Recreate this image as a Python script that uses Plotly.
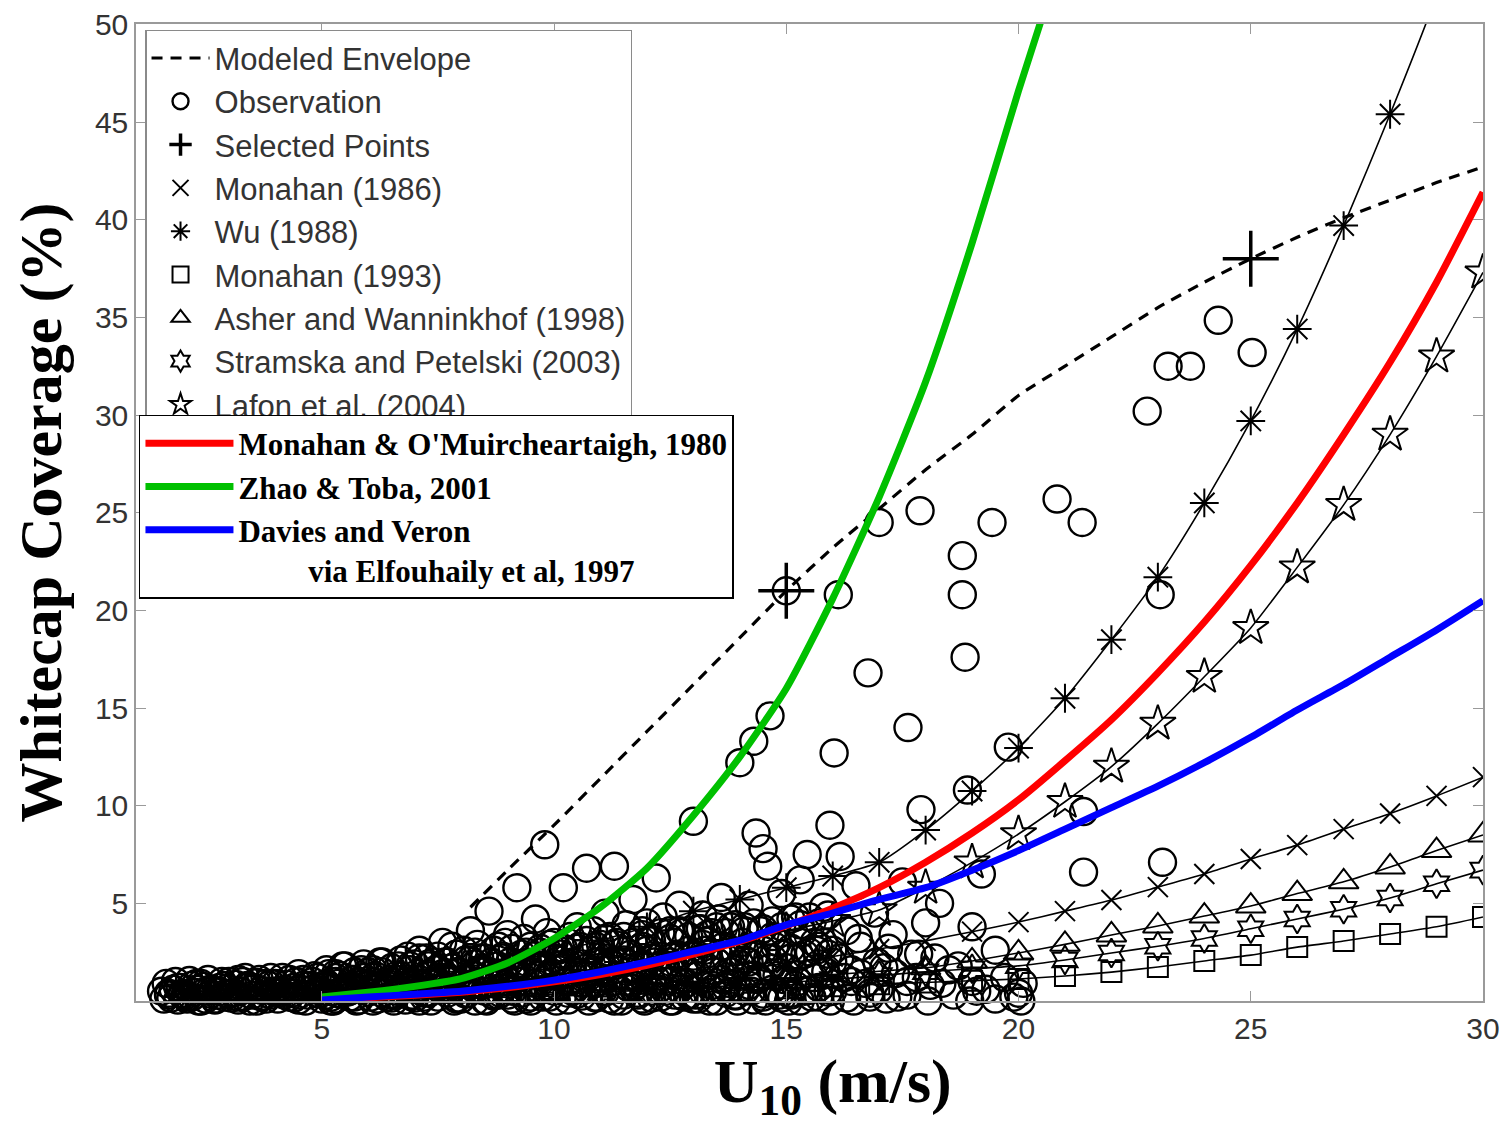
import plotly.graph_objects as go

# ---------------- data ----------------
env_u = [8.2, 9, 10, 11, 12, 13, 14, 15, 16, 17, 18, 19, 20, 21, 22, 23, 24, 25, 26, 27, 28, 29, 30]
env_w = [4.8, 6.7, 9.0, 11.4, 13.8, 16.2, 18.6, 21.0, 23.2, 25.2, 27.2, 29.0, 31.0, 32.5, 34.0, 35.5, 36.8, 38.0, 39.1, 40.1, 41.0, 41.9, 42.7]

sel_u = [15, 25]
sel_w = [21.0, 38.0]

obs_u = [1.6, 1.7, 1.9, 2.0, 2.2, 2.3, 2.5, 2.6, 2.8, 2.9, 3.1, 3.2, 3.4, 3.5, 3.7, 3.8, 4.0, 4.1, 4.3, 4.4,
         4.6, 4.7, 4.9, 5.0, 5.1, 5.3, 5.4, 5.6, 5.7, 5.9, 6.0, 6.2, 6.3, 6.4, 6.6, 6.7, 6.9, 7.0, 7.1, 7.2,
         7.3, 7.4, 7.5, 7.6, 7.7, 7.8, 7.9, 8.0, 8.1, 8.2, 8.3, 8.4, 8.5, 8.6, 8.7, 8.8, 8.9, 9.0, 9.1, 9.2,
         9.3, 9.4, 9.5, 9.6, 9.7, 9.8, 9.9, 10.0, 10.1, 10.2, 10.3, 10.4, 10.5, 10.6, 10.7, 10.8, 10.9, 11.0, 11.1, 11.2,
         11.3, 11.4, 11.5, 11.6, 11.7, 11.8, 11.9, 12.0, 12.1, 12.2, 12.3, 12.4, 12.5, 12.6, 12.7, 12.8, 12.9, 13.0, 13.1, 13.2,
         13.3, 13.4, 13.5, 13.6, 13.7, 13.8, 13.9, 14.0, 14.1, 14.2, 14.3, 14.35, 14.4, 14.5, 14.6, 14.65, 14.7, 14.8, 14.9, 15.0,
         15.1, 15.2, 15.3, 15.45, 15.5, 15.6, 15.7, 15.8, 15.94, 16.0, 16.03, 16.12, 16.16, 16.3, 16.4, 16.5, 16.6, 16.76, 16.8, 16.9,
         17.0, 17.1, 17.3, 17.5, 17.62, 17.7, 17.88, 17.9, 18.0, 18.1, 18.3, 18.5, 18.79, 18.79, 18.85, 18.9, 19.0, 19.1, 19.2, 19.43,
         19.5, 19.78, 19.9, 20.1, 20.83, 21.37, 21.4, 21.4, 22.77, 23.05, 23.1, 23.22, 23.7, 24.3, 25.03,
         1.8, 2.1, 2.4, 2.7, 3.0, 3.3, 3.6, 3.9, 4.2, 4.5, 4.8, 5.2, 5.5, 5.8, 6.1, 6.5, 6.8, 7.0, 7.3, 7.6,
         7.9, 8.2, 8.5, 8.8, 9.1, 9.4, 9.7, 10.0, 10.3, 10.6, 10.9, 11.2, 11.5, 11.8, 12.1, 12.4, 12.7, 13.0, 13.3, 13.6,
         13.9, 14.2, 14.5, 14.8, 15.1, 15.4, 15.7, 16.0, 16.3, 16.6, 17.0, 17.4, 17.8, 18.2, 18.6, 19.0, 19.5, 20.0, 14.1, 13.4,
         12.6, 11.9, 11.0, 10.2, 9.5, 8.9, 8.3, 7.8, 7.3, 6.6, 6.0, 5.3, 4.5, 3.9, 3.2]
obs_w = [0.1, 0.3, 0.05, 0.4, 0.2, 0.6, 0.1, 0.35, 0.7, 0.2, 0.45, 0.05, 0.8, 0.3, 0.55, 0.1, 0.9, 0.4, 0.2, 0.7,
         1.1, 0.3, 0.55, 0.1, 0.9, 0.4, 1.3, 0.2, 0.7, 1.2, 0.45, 0.1, 1.5, 0.8, 0.3, 1.1, 1.6, 0.6, 2.6, 0.2,
         1.3, 2.0, 0.9, 3.0, 0.4, 1.7, 2.4, 0.1, 1.1, 3.6, 0.6, 2.2, 1.5, 4.6, 0.3, 2.8, 1.0, 3.4, 0.5, 5.8,
         1.9, 2.5, 0.2, 4.2, 1.3, 8.0, 0.7, 3.0, 2.1, 5.8, 0.4, 1.6, 3.8, 0.9, 6.8, 2.6, 0.2, 1.2, 4.5, 3.3,
         6.9, 0.6, 2.0, 1.5, 5.2, 0.3, 2.8, 4.0, 1.0, 6.3, 2.3, 0.5, 3.6, 1.7, 4.9, 0.2, 2.6, 9.2, 1.3, 4.4,
         3.1, 0.8, 2.0, 5.3, 0.4, 3.8, 1.6, 12.2, 2.6, 4.9, 13.3, 8.6, 1.1, 7.8, 6.9, 14.6, 3.3, 0.5, 5.5, 21.0,
         2.2, 4.3, 6.2, 7.5, 1.4, 3.0, 0.7, 4.8, 9.0, 2.0, 12.7, 20.8, 7.4, 3.6, 1.0, 5.9, 2.8, 16.8, 0.4, 4.5,
         24.5, 1.7, 3.4, 6.1, 14.0, 2.4, 25.1, 9.8, 4.0, 0.8, 5.0, 1.6, 22.8, 20.8, 17.6, 10.8, 3.8, 0.5, 6.5, 24.5,
         2.6, 13.0, 0.2, 0.9, 25.7, 24.5, 9.7, 6.6, 30.2, 20.8, 7.1, 32.5, 32.5, 34.85, 33.2,
         0.6, 0.1, 0.9, 0.05, 1.0, 0.2, 0.95, 0.3, 0.6, 0.05, 1.0, 0.2, 0.6, 0.05, 1.0, 0.3, 0.05, 1.9, 0.4, 1.2,
         0.15, 0.8, 0.05, 1.8, 1.3, 0.1, 2.7, 0.5, 1.0, 1.9, 0.9, 0.1, 2.6, 1.2, 0.15, 1.8, 0.9, 0.1, 2.2, 1.1,
         0.3, 2.0, 0.2, 1.3, 0.3, 2.4, 1.9, 0.5, 0.15, 1.4, 0.6, 0.2, 1.2, 2.2, 0.3, 1.0, 0.1, 0.4, 3.8, 3.5,
         3.0, 3.6, 2.4, 2.7, 1.5, 2.2, 1.9, 2.8, 1.8, 1.3, 1.5, 1.2, 1.4, 1.2, 1.1]

# dense low-wind band of observations
band_u = [1.55, 1.65, 1.75, 1.85, 1.95, 2.05, 2.15, 2.25, 2.35, 2.45, 2.55, 2.65, 2.75, 2.85, 2.95, 3.05, 3.15, 3.25, 3.35, 3.45,
          3.55, 3.65, 3.75, 3.85, 3.95, 4.05, 4.15, 4.25, 4.35, 4.45, 4.55, 4.65, 4.75, 4.85, 4.95,
          5.05, 5.15, 5.25, 5.35, 5.45, 5.55, 5.65, 5.75, 5.85, 5.95, 6.05, 6.15, 6.25, 6.35, 6.45, 6.55, 6.65, 6.75, 6.85, 6.95,
          7.05, 7.15, 7.25, 7.35, 7.45, 7.55, 7.65, 7.75, 7.85, 7.95, 8.05, 8.15, 8.25, 8.35, 8.45, 8.55, 8.65, 8.75, 8.85, 8.95,
          9.05, 9.15, 9.25, 9.35, 9.45, 9.55, 9.65, 9.75, 9.85, 9.95,
          10.05, 10.15, 10.25, 10.35, 10.45, 10.55, 10.65, 10.75, 10.85, 10.95, 11.05, 11.15, 11.25, 11.35, 11.45, 11.55, 11.65,
          11.75, 11.85, 11.95, 12.05, 12.15, 12.25, 12.35, 12.45, 12.55, 12.65, 12.75, 12.85, 12.95, 13.05, 13.15, 13.25, 13.35,
          13.45, 13.55, 13.65, 13.75, 13.85, 13.95, 14.05, 14.15, 14.25, 14.35, 14.45, 14.55, 14.65, 14.75, 14.85, 14.95,
          15.05, 15.25, 15.35, 15.55, 15.65, 15.85, 15.95, 16.15, 16.25, 16.45, 16.55, 16.7, 16.95, 17.15, 17.35, 17.6, 17.85,
          18.05, 18.35, 18.7, 18.95, 19.3, 19.7, 20.05]
band_w = [0.5, 0.9, 0.15, 1.0, 0.7, 0.25, 1.05, 0.45, 0.0, 0.75, 1.1, 0.55, 0.3, 1.0, 0.65, 0.15, 0.85, 0.5, 1.2, 0.0,
          0.7, 1.1, 0.25, 0.8, 0.5, 0.1, 1.2, 0.85, 0.4, 1.0, 0.6, 0.0, 0.8, 1.3, 0.35,
          0.7, 1.4, 0.0, 0.9, 1.8, 0.45, 1.1, 0.0, 1.6, 0.8, 0.2, 1.3, 2.0, 0.6, 1.1, 0.0, 1.8, 0.7, 2.3, 0.3,
          1.4, 0.9, 2.2, 0.0, 1.6, 0.6, 2.0, 1.0, 0.0, 1.5, 2.6, 0.4, 1.3, 2.9, 0.8, 0.0, 2.0, 1.2, 0.4, 3.0,
          2.0, 0.0, 1.0, 3.2, 0.6, 2.3, 1.7, 0.2, 3.5, 1.3,
          0.0, 2.4, 1.4, 3.3, 0.6, 2.8, 1.3, 0.0, 3.6, 1.7, 0.5, 2.2, 1.0, 3.0, 0.0, 3.9, 2.4,
          0.8, 1.8, 0.0, 3.1, 2.0, 0.6, 4.3, 1.4, 0.0, 2.4, 3.5, 0.9, 1.9, 0.3, 3.7, 2.6, 0.0,
          1.5, 4.2, 2.8, 0.9, 2.2, 0.0, 3.0, 1.3, 0.5, 2.4, 3.6, 0.0, 1.7, 2.8, 0.3, 1.1,
          0.0, 1.0, 3.5, 0.2, 2.6, 1.5, 0.0, 2.2, 1.2, 0.0, 3.2, 0.9, 2.0, 0.1, 1.4, 0.3, 2.4,
          0.0, 0.9, 1.8, 0.0, 0.6, 1.2, 0.0]
band2_u = [2.0, 2.4, 2.8, 3.2, 3.6, 4.0, 4.4, 4.8, 5.2, 5.6, 6.0, 6.4, 6.8, 7.2, 7.6, 8.0, 8.4, 8.8, 9.2, 9.6,
           10.0, 10.4, 10.8, 11.2, 11.6, 12.0, 12.4, 12.8, 13.2, 13.6, 14.0, 14.4, 14.8, 15.2, 15.6, 16.0, 16.4, 16.8, 17.2, 17.6,
           2.2, 2.6, 3.0, 3.4, 3.8, 4.2, 4.6, 5.0, 5.4, 5.8, 6.2, 6.6, 7.0, 7.4, 7.8, 8.2, 8.6, 9.0, 9.4, 9.8,
           10.2, 10.6, 11.0, 11.4, 11.8, 12.2, 12.6, 13.0, 13.4, 13.8, 14.2, 14.6, 15.0, 15.4, 15.8]
band2_w = [0.3, 0.0, 0.5, 0.2, 0.0, 0.45, 0.15, 0.6, 0.0, 0.5, 0.9, 0.2, 1.0, 0.4, 1.4, 0.6, 1.6, 0.3, 1.8, 0.9,
           2.2, 0.5, 1.5, 2.0, 0.7, 2.6, 1.0, 1.7, 2.9, 0.6, 1.9, 1.2, 3.0, 0.8, 1.2, 2.6, 1.6, 0.2, 2.7, 1.0,
           0.8, 0.6, 0.35, 0.7, 0.9, 0.3, 0.8, 0.5, 0.35, 1.0, 0.7, 0.5, 0.15, 1.0, 0.6, 2.1, 0.9, 0.3, 2.0, 0.6,
           1.7, 0.25, 2.9, 1.3, 0.4, 1.1, 0.3, 2.3, 0.6, 1.5, 0.8, 2.2, 1.7, 0.5, 3.0]
band3_u = [5.1, 5.3, 5.5, 5.7, 5.9, 6.1, 6.3, 6.5, 6.7, 6.9, 7.1, 7.3, 7.5, 7.7, 7.9, 8.1, 8.3, 8.5, 8.7, 8.9,
           9.1, 9.3, 9.5, 9.7, 9.9, 10.1, 10.3, 10.5, 10.7, 10.9, 11.1, 11.3, 11.5, 11.7, 11.9, 12.1, 12.3, 12.5, 12.7, 12.9,
           13.1, 13.3, 13.5, 13.7, 13.9, 14.1, 14.3, 14.5, 14.7, 14.9, 15.1, 15.3, 15.5, 15.7, 15.9]
band3_low_w = [0.3, 0.1, 0.5, 0.2, 0.6, 0.0, 0.4, 0.15, 0.55, 0.25, 0.0, 0.45, 0.2, 0.6, 0.1, 0.35, 0.0, 0.5, 0.25, 0.65,
               0.1, 0.4, 0.0, 0.55, 0.2, 0.7, 0.05, 0.35, 0.6, 0.15, 0.45, 0.0, 0.3, 0.65, 0.1, 0.5, 0.2, 0.0, 0.6, 0.3,
               0.1, 0.45, 0.0, 0.7, 0.25, 0.5, 0.05, 0.35, 0.6, 0.15, 0.4, 0.0, 0.55, 0.2, 0.45]
band3_mid_w = [0.8, 1.0, 0.7, 1.1, 0.9, 1.2, 0.8, 1.0, 1.3, 0.9, 1.1, 1.4, 1.0, 1.2, 1.5, 1.1, 1.3, 1.6, 1.2, 1.4,
               1.7, 1.3, 1.5, 1.8, 1.4, 1.6, 1.9, 1.5, 1.7, 2.0, 1.6, 1.8, 2.1, 1.7, 1.9, 2.2, 1.8, 2.0, 2.3, 1.9,
               2.1, 2.4, 2.0, 2.2, 2.5, 2.1, 2.3, 2.6, 2.2, 2.4, 2.7, 2.3, 2.5, 2.8, 2.4]
band3_top_w = [1.6, 1.4, 1.8, 1.5, 1.9, 1.6, 2.0, 1.7, 2.1, 1.8, 2.2, 1.9, 2.3, 2.0, 2.4, 2.1, 2.5, 2.2, 2.6, 2.3,
               2.7, 2.4, 2.8, 2.5, 2.9, 2.6, 3.0, 2.7, 3.1, 2.8, 3.2, 2.9, 3.3, 3.0, 3.4, 3.1, 3.5, 3.2, 3.6, 3.3,
               3.7, 3.4, 3.8, 3.5, 3.9, 3.6, 4.0, 3.7, 4.1, 3.8, 4.2, 3.9, 4.3, 4.0, 4.4]
band4_u = [1.7, 1.9, 2.1, 2.3, 2.5, 2.7, 2.9, 3.1, 3.3, 3.5, 3.7, 3.9, 4.1, 4.3, 4.5, 4.7, 4.9]
band4_w = [0.4, 0.7, 0.2, 0.9, 0.5, 0.1, 0.8, 0.4, 1.0, 0.6, 0.2, 0.9, 0.5, 1.1, 0.3, 0.8, 1.2]

mod_u = [2, 3, 4, 5, 6, 7, 8, 9, 10, 11, 12, 13, 14, 15, 16, 17, 18, 19, 20, 21, 22, 23, 24, 25, 26, 27, 28, 29, 30]
monahan86_w = [0.01, 0.03, 0.07, 0.13, 0.2, 0.3, 0.43, 0.57, 0.7, 0.88, 1.08, 1.33, 1.6, 1.93, 2.28, 2.66, 3.08, 3.55, 4.04,
               4.6, 5.17, 5.83, 6.5, 7.27, 7.98, 8.8, 9.6, 10.5, 11.46]
wu88_w = [0.02, 0.08, 0.2, 0.4, 0.7, 1.1, 1.5, 1.95, 2.5, 3.1, 3.8, 4.6, 5.2, 5.8, 6.4, 7.1, 8.75, 10.75, 12.95,
          15.5, 18.5, 21.7, 25.5, 29.7, 34.4, 39.7, 45.4, 51.5, 58.9]
monahan93_w = [0.0, 0.01, 0.02, 0.04, 0.06, 0.1, 0.14, 0.19, 0.25, 0.31, 0.38, 0.46, 0.55, 0.65, 0.75, 0.86, 0.95, 1.04, 1.13,
               1.28, 1.48, 1.74, 2.05, 2.35, 2.76, 3.07, 3.43, 3.8, 4.3]
asher98_w = [0.0, 0.01, 0.03, 0.06, 0.1, 0.16, 0.24, 0.33, 0.44, 0.56, 0.7, 0.85, 1.0, 1.17, 1.35, 1.52, 1.7, 2.05, 2.46,
             2.9, 3.38, 3.84, 4.35, 4.86, 5.5, 6.1, 6.86, 7.7, 8.5]
stramska03_w = [0.0, 0.01, 0.02, 0.05, 0.08, 0.13, 0.19, 0.26, 0.35, 0.45, 0.56, 0.68, 0.8, 0.95, 1.1, 1.3, 1.5, 1.65, 1.8,
                2.1, 2.46, 2.8, 3.2, 3.7, 4.2, 4.7, 5.27, 6.0, 6.7]
lafon04_w = [0.0, 0.02, 0.06, 0.13, 0.25, 0.42, 0.65, 0.95, 1.3, 1.7, 2.1, 2.6, 3.1, 3.6, 4.1, 4.66, 5.8, 7.1, 8.55,
             10.2, 12.0, 14.2, 16.6, 19.1, 22.2, 25.4, 29.0, 33.0, 37.3]

col_u = [5, 6, 7, 8, 9, 10, 11, 12, 13, 14, 15, 16, 17, 18, 19, 20, 21, 22, 23, 24, 25, 26, 27, 28, 29, 30]
mom80_w = [0.09, 0.17, 0.29, 0.45, 0.68, 0.98, 1.36, 1.83, 2.4, 3.05, 3.85, 4.75, 5.8, 7.1, 8.6, 10.3, 12.3, 14.4,
           16.8, 19.4, 22.3, 25.5, 29.0, 32.7, 36.8, 41.4]
zhao01_u = [5, 6, 7, 8, 9, 10, 11, 12, 13, 14, 15, 16, 17, 18, 19, 20, 20.5]
zhao01_w = [0.2, 0.45, 0.75, 1.15, 1.95, 3.2, 4.8, 6.8, 9.5, 12.5, 16.0, 20.6, 25.8, 31.7, 38.8, 46.6, 50.3]
davies_w = [0.05, 0.2, 0.35, 0.5, 0.75, 1.07, 1.5, 2.0, 2.55, 3.1, 3.9, 4.5, 5.2, 5.8, 6.7, 7.7, 8.8, 9.9, 11.0, 12.2,
            13.5, 14.9, 16.2, 17.6, 19.0, 20.5]

x_ticks = [5, 10, 15, 20, 25, 30]
y_ticks = [5, 10, 15, 20, 25, 30, 35, 40, 45, 50]

# ---------------- figure ----------------
fig = go.Figure()
BLK = "black"

all_obs_u = obs_u + band_u + band2_u + band3_u + band3_u + band3_u + band4_u
all_obs_w = obs_w + band_w + band2_w + band3_low_w + band3_mid_w + band3_top_w + band4_w

# observations
fig.add_trace(go.Scatter(x=all_obs_u, y=all_obs_w, mode="markers", name="Observation",
                         marker=dict(symbol="circle-open", size=27, color=BLK, line=dict(width=2.4, color=BLK)),
                         cliponaxis=False, legend="legend", legendrank=2))

# model parametrisations: line (no legend) + markers (legend)
models = [
    ("Monahan (1986)", monahan86_w, "x-thin-open", 20, 4),
    ("Wu (1988)", wu88_w, "asterisk-open", 24, 5),
    ("Monahan (1993)", monahan93_w, "square-open", 20, 6),
    ("Asher and Wanninkhof (1998)", asher98_w, "triangle-up-open", 26, 7),
    ("Stramska and Petelski (2003)", stramska03_w, "hexagram-open", 22, 8),
    ("Lafon et al. (2004)", lafon04_w, "star-open", 27, 9),
]
for name, w, sym, sz, rk in models:
    fig.add_trace(go.Scatter(x=mod_u, y=w, mode="lines", showlegend=False,
                             line=dict(color=BLK, width=1.6, shape="spline", smoothing=0.6), hoverinfo="skip"))
    fig.add_trace(go.Scatter(x=mod_u, y=w, mode="markers", name=name,
                             marker=dict(symbol=sym, size=sz, color=BLK, line=dict(width=2, color=BLK)),
                             legend="legend", legendrank=rk))

# modeled envelope
fig.add_trace(go.Scatter(x=env_u, y=env_w, mode="lines", name="Modeled Envelope",
                         line=dict(color=BLK, width=3.2, dash="11px,8px", shape="spline", smoothing=0.6),
                         legend="legend", legendrank=1))
# selected points
fig.add_trace(go.Scatter(x=sel_u, y=sel_w, mode="markers", name="Selected Points",
                         marker=dict(symbol="cross-thin-open", size=40, color=BLK, line=dict(width=3.5, color=BLK)),
                         legend="legend", legendrank=3))

# coloured parametrisations
fig.add_trace(go.Scatter(x=col_u, y=mom80_w, mode="lines", name="Monahan & O'Muircheartaigh, 1980",
                         line=dict(color="#ff0000", width=7, shape="spline", smoothing=0.6), legend="legend2"))
fig.add_trace(go.Scatter(x=zhao01_u, y=zhao01_w, mode="lines", name="Zhao & Toba, 2001",
                         line=dict(color="#00c000", width=7, shape="spline", smoothing=0.6), legend="legend2"))
fig.add_trace(go.Scatter(x=col_u, y=davies_w, mode="lines",
                         name="Davies and Veron<br>" + "\u00a0" * 9 + "via Elfouhaily et al, 1997",
                         line=dict(color="#0000ff", width=7, shape="spline", smoothing=0.6), legend="legend2"))

axis_common = dict(showline=True, linecolor="#9a9a9a", linewidth=1.5, mirror="ticks",
                   ticks="inside", ticklen=10, tickcolor="#9a9a9a", tickwidth=1.3,
                   showgrid=False, zeroline=False, automargin=False, ticklabeloverflow="allow",
                   tickfont=dict(family="Liberation Sans", size=30, color="#333333"))

# page body has an 8px default margin: figure is 1500x1116 so that the plot area
# lands at x 136..1483, y 24..1001 in the 1508x1124 window
fig.update_layout(
    width=1500, height=1116,
    margin=dict(l=128, r=25, t=16, b=123),
    paper_bgcolor="white", plot_bgcolor="white",
    xaxis=dict(range=[1, 30], tickvals=x_ticks, ticktext=[str(v) for v in x_ticks], **axis_common,
               title=dict(text="<b>\u00a0\u00a0\u00a0U<sub>10</sub> (m/s)</b>", standoff=24,
                          font=dict(family="Liberation Serif", size=62, color="black"))),
    yaxis=dict(range=[0, 50.02], tickvals=y_ticks, ticktext=[str(v) for v in y_ticks], **axis_common,
               title=dict(text="<b>Whitecap Coverage (%)</b>", standoff=20,
                          font=dict(family="Liberation Serif", size=60, color="black"))),
    legend=dict(x=0.0067, y=0.994, xanchor="left", yanchor="top",
                bgcolor="white", bordercolor="#8a8a8a", borderwidth=1.5,
                font=dict(family="Liberation Sans", size=31, color="#333333"),
                itemwidth=58, traceorder="normal", tracegroupgap=0),
    legend2=dict(x=0.0022, y=0.5998, xanchor="left", yanchor="top",
                 bgcolor="white", bordercolor="black", borderwidth=1.5,
                 font=dict(family="Liberation Serif", size=31, color="black", weight="bold"),
                 itemwidth=88, valign="top", traceorder="normal"),
    showlegend=True,
)

fig.write_html("out.html")
